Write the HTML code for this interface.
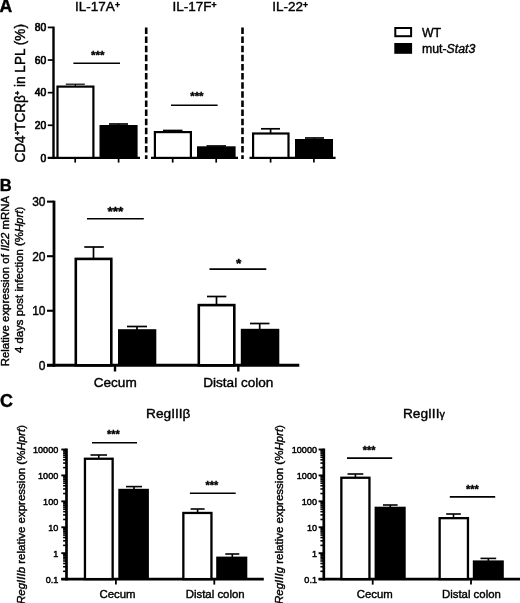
<!DOCTYPE html>
<html><head><meta charset="utf-8"><title>Figure</title>
<style>
html,body{margin:0;padding:0;background:#fff;}
svg{display:block;filter:grayscale(1) blur(0.35px);}
text{font-family:"Liberation Sans", Arial, Helvetica, sans-serif;fill:#000;stroke:#000;stroke-width:0.4px;}
</style></head><body>
<svg width="520" height="603" viewBox="0 0 520 603">
<rect width="520" height="603" fill="#fff"/>
<text x="-0.5" y="12.3" font-size="17.6" text-anchor="start" font-weight="bold" >A</text>
<text x="97.5" y="11.2" font-size="13.5" text-anchor="middle">IL-17A<tspan font-size="8.6" font-weight="bold" dy="-3.7">+</tspan></text>
<text x="194.5" y="11.2" font-size="13.5" text-anchor="middle">IL-17F<tspan font-size="8.6" font-weight="bold" dy="-3.7">+</tspan></text>
<text x="290.2" y="11.2" font-size="13.5" text-anchor="middle">IL-22<tspan font-size="8.6" font-weight="bold" dy="-3.7">+</tspan></text>
<line x1="53.5" y1="26.6" x2="53.5" y2="159.05" stroke="#000" stroke-width="2.4" />
<line x1="47.8" y1="157.9" x2="53.5" y2="157.9" stroke="#000" stroke-width="1.7" />
<text x="46.2" y="161.6" font-size="10.3" text-anchor="end" font-weight="normal" style="stroke-width:0.65px">0</text>
<line x1="47.8" y1="125.28" x2="53.5" y2="125.28" stroke="#000" stroke-width="1.7" />
<text x="46.2" y="128.98" font-size="10.3" text-anchor="end" font-weight="normal" style="stroke-width:0.65px">20</text>
<line x1="47.8" y1="92.66000000000001" x2="53.5" y2="92.66000000000001" stroke="#000" stroke-width="1.7" />
<text x="46.2" y="96.36000000000001" font-size="10.3" text-anchor="end" font-weight="normal" style="stroke-width:0.65px">40</text>
<line x1="47.8" y1="60.040000000000006" x2="53.5" y2="60.040000000000006" stroke="#000" stroke-width="1.7" />
<text x="46.2" y="63.74000000000001" font-size="10.3" text-anchor="end" font-weight="normal" style="stroke-width:0.65px">60</text>
<line x1="47.8" y1="27.420000000000016" x2="53.5" y2="27.420000000000016" stroke="#000" stroke-width="1.7" />
<text x="46.2" y="31.120000000000015" font-size="10.3" text-anchor="end" font-weight="normal" style="stroke-width:0.65px">80</text>
<text transform="translate(24.9,93.3) rotate(-90) scale(1,1.06)" font-size="13.6" text-anchor="middle">CD4<tspan font-size="7.6" font-weight="bold" dy="-4.2">+</tspan><tspan dy="4.2">TCRβ</tspan><tspan font-size="7.6" font-weight="bold" dy="-4.2">+</tspan><tspan dy="4.2"> in LPL (%)</tspan></text>
<line x1="47.8" y1="157.9" x2="140" y2="157.9" stroke="#000" stroke-width="2.3" />
<line x1="65.8" y1="84.2" x2="84.8" y2="84.2" stroke="#000" stroke-width="1.2" />
<line x1="75.4" y1="84.2" x2="75.4" y2="87" stroke="#000" stroke-width="1.2" />
<rect x="57.5" y="86.6" width="35.9" height="71.30000000000001" fill="#fff" stroke="#000" stroke-width="2.2"/>
<line x1="109" y1="124.0" x2="128" y2="124.0" stroke="#000" stroke-width="1.7" />
<line x1="118.5" y1="124.0" x2="118.5" y2="126" stroke="#000" stroke-width="1.7" />
<rect x="99.5" y="125.0" width="38.099999999999994" height="32.900000000000006" fill="#000"/>
<line x1="75.2" y1="157.9" x2="75.2" y2="162.6" stroke="#000" stroke-width="1.7" />
<line x1="118.6" y1="157.9" x2="118.6" y2="162.6" stroke="#000" stroke-width="1.7" />
<line x1="73.4" y1="63.2" x2="120" y2="63.2" stroke="#000" stroke-width="1.6" />
<text x="97.7" y="59.3" font-size="11.5" text-anchor="middle" font-weight="bold" >***</text>
<line x1="146.2" y1="27.4" x2="146.2" y2="159" stroke="#000" stroke-width="2.6" stroke-dasharray="6.5 2.63"/>
<line x1="242.5" y1="27.4" x2="242.5" y2="159" stroke="#000" stroke-width="2.6" stroke-dasharray="6.5 2.63"/>
<line x1="151" y1="157.9" x2="238" y2="157.9" stroke="#000" stroke-width="2.3" />
<line x1="163" y1="130.5" x2="182.5" y2="130.5" stroke="#000" stroke-width="1.7" />
<line x1="172.9" y1="130.5" x2="172.9" y2="132" stroke="#000" stroke-width="1.7" />
<rect x="154.9" y="132.1" width="35.999999999999986" height="25.800000000000004" fill="#fff" stroke="#000" stroke-width="2.2"/>
<line x1="206.5" y1="146.0" x2="226" y2="146.0" stroke="#000" stroke-width="1.7" />
<line x1="216.2" y1="146.0" x2="216.2" y2="147" stroke="#000" stroke-width="1.7" />
<rect x="197" y="146.3" width="38.599999999999994" height="11.599999999999994" fill="#000"/>
<line x1="172.7" y1="157.9" x2="172.7" y2="162.6" stroke="#000" stroke-width="1.7" />
<line x1="216.2" y1="157.9" x2="216.2" y2="162.6" stroke="#000" stroke-width="1.7" />
<line x1="171" y1="105.2" x2="217.6" y2="105.2" stroke="#000" stroke-width="1.6" />
<text x="196.9" y="100.3" font-size="11.5" text-anchor="middle" font-weight="bold" >***</text>
<line x1="249.5" y1="157.9" x2="335.6" y2="157.9" stroke="#000" stroke-width="2.3" />
<line x1="261" y1="128.8" x2="280" y2="128.8" stroke="#000" stroke-width="1.7" />
<line x1="270.6" y1="128.8" x2="270.6" y2="133" stroke="#000" stroke-width="1.7" />
<rect x="253.1" y="133.5" width="35.40000000000002" height="24.4" fill="#fff" stroke="#000" stroke-width="2.2"/>
<line x1="305" y1="138" x2="324" y2="138" stroke="#000" stroke-width="1.7" />
<line x1="314.4" y1="138" x2="314.4" y2="140" stroke="#000" stroke-width="1.7" />
<rect x="295" y="139" width="38" height="18.900000000000006" fill="#000"/>
<line x1="270.6" y1="157.9" x2="270.6" y2="162.6" stroke="#000" stroke-width="1.7" />
<line x1="313.9" y1="157.9" x2="313.9" y2="162.6" stroke="#000" stroke-width="1.7" />
<rect x="395.3" y="28" width="15.8" height="8.2" fill="#fff" stroke="#000" stroke-width="2"/>
<rect x="394.3" y="43" width="17.8" height="10.8" fill="#000"/>
<text x="422" y="36.8" font-size="12.3" text-anchor="start" font-weight="normal" >WT</text>
<text x="422" y="53" font-size="12.3" text-anchor="start" font-weight="normal" >mut-<tspan font-style="italic">Stat3</tspan></text>
<text x="-0.3" y="191.2" font-size="16.5" text-anchor="start" font-weight="bold" >B</text>
<line x1="54" y1="200.7" x2="54" y2="366.8" stroke="#000" stroke-width="2.8" />
<line x1="47" y1="365.3" x2="54" y2="365.3" stroke="#000" stroke-width="2.1" />
<text x="45.5" y="369.8" font-size="12" text-anchor="end" font-weight="normal" >0</text>
<line x1="47" y1="310.75" x2="54" y2="310.75" stroke="#000" stroke-width="2.1" />
<text x="45.5" y="315.25" font-size="12" text-anchor="end" font-weight="normal" >10</text>
<line x1="47" y1="256.20000000000005" x2="54" y2="256.20000000000005" stroke="#000" stroke-width="2.1" />
<text x="45.5" y="260.70000000000005" font-size="12" text-anchor="end" font-weight="normal" >20</text>
<line x1="47" y1="201.65" x2="54" y2="201.65" stroke="#000" stroke-width="2.1" />
<text x="45.5" y="206.15" font-size="12" text-anchor="end" font-weight="normal" >30</text>
<line x1="47" y1="365.3" x2="299.3" y2="365.3" stroke="#000" stroke-width="3" />
<text transform="translate(8.8,281.1) rotate(-90)" font-size="11.4" text-anchor="middle">Relative expression of <tspan font-style="italic">Il22</tspan> mRNA</text>
<text transform="translate(23.0,279.9) rotate(-90)" font-size="11.4" text-anchor="middle">4 days post infection (%<tspan font-style="italic">Hprt</tspan>)</text>
<line x1="84.3" y1="247" x2="103.8" y2="247" stroke="#000" stroke-width="1.7" />
<line x1="93.5" y1="247" x2="93.5" y2="259" stroke="#000" stroke-width="1.7" />
<rect x="75.8" y="258.90000000000003" width="35.49999999999999" height="106.39999999999999" fill="#fff" stroke="#000" stroke-width="2.6"/>
<line x1="127" y1="326.5" x2="147" y2="326.5" stroke="#000" stroke-width="1.7" />
<line x1="137" y1="326.5" x2="137" y2="330" stroke="#000" stroke-width="1.7" />
<rect x="118" y="329.2" width="38.30000000000001" height="36.10000000000002" fill="#000"/>
<line x1="207" y1="296.5" x2="226.3" y2="296.5" stroke="#000" stroke-width="1.7" />
<line x1="216.5" y1="296.5" x2="216.5" y2="305" stroke="#000" stroke-width="1.7" />
<rect x="198.8" y="305.1" width="35.49999999999999" height="60.2" fill="#fff" stroke="#000" stroke-width="2.6"/>
<line x1="250" y1="323.5" x2="269.5" y2="323.5" stroke="#000" stroke-width="1.7" />
<line x1="259.7" y1="323.5" x2="259.7" y2="330" stroke="#000" stroke-width="1.7" />
<rect x="240.8" y="328.8" width="38.5" height="36.5" fill="#000"/>
<line x1="115" y1="365.3" x2="115" y2="371.5" stroke="#000" stroke-width="2.4" />
<line x1="238.3" y1="365.3" x2="238.3" y2="371.5" stroke="#000" stroke-width="2.4" />
<text x="115.2" y="387.1" font-size="13.6" text-anchor="middle" font-weight="normal" >Cecum</text>
<text x="238.3" y="387.1" font-size="13.6" text-anchor="middle" font-weight="normal" >Distal colon</text>
<line x1="87" y1="218.8" x2="143.8" y2="218.8" stroke="#000" stroke-width="1.6" />
<text x="115.4" y="216.2" font-size="13.7" text-anchor="middle" font-weight="bold" >***</text>
<line x1="209.5" y1="269.1" x2="266.3" y2="269.1" stroke="#000" stroke-width="1.6" />
<text x="238.6" y="267.5" font-size="13.7" text-anchor="middle" font-weight="bold" >*</text>
<text x="0" y="406.7" font-size="17.9" text-anchor="start" font-weight="bold" >C</text>
<line x1="66.5" y1="448.5" x2="66.5" y2="580.4" stroke="#000" stroke-width="2.7" />
<line x1="61.3" y1="579.1" x2="66.5" y2="579.1" stroke="#000" stroke-width="1.9" />
<text x="58.3" y="582.6" font-size="9.1" text-anchor="end" font-weight="normal" style="stroke-width:0.45px">0.1</text>
<line x1="63.1" y1="571.2973025123896" x2="66.5" y2="571.2973025123896" stroke="#000" stroke-width="1.6" />
<line x1="63.1" y1="566.7330170776663" x2="66.5" y2="566.7330170776663" stroke="#000" stroke-width="1.6" />
<line x1="63.1" y1="563.4946050247793" x2="66.5" y2="563.4946050247793" stroke="#000" stroke-width="1.6" />
<line x1="63.1" y1="560.9826974876104" x2="66.5" y2="560.9826974876104" stroke="#000" stroke-width="1.6" />
<line x1="63.1" y1="558.930319590056" x2="66.5" y2="558.930319590056" stroke="#000" stroke-width="1.6" />
<line x1="63.1" y1="557.1950588028304" x2="66.5" y2="557.1950588028304" stroke="#000" stroke-width="1.6" />
<line x1="63.1" y1="555.6919075371688" x2="66.5" y2="555.6919075371688" stroke="#000" stroke-width="1.6" />
<line x1="63.1" y1="554.3660341553327" x2="66.5" y2="554.3660341553327" stroke="#000" stroke-width="1.6" />
<line x1="61.3" y1="553.1800000000001" x2="66.5" y2="553.1800000000001" stroke="#000" stroke-width="1.9" />
<text x="58.3" y="556.6800000000001" font-size="9.1" text-anchor="end" font-weight="normal" style="stroke-width:0.45px">1</text>
<line x1="63.1" y1="545.3773025123896" x2="66.5" y2="545.3773025123896" stroke="#000" stroke-width="1.6" />
<line x1="63.1" y1="540.8130170776664" x2="66.5" y2="540.8130170776664" stroke="#000" stroke-width="1.6" />
<line x1="63.1" y1="537.5746050247792" x2="66.5" y2="537.5746050247792" stroke="#000" stroke-width="1.6" />
<line x1="63.1" y1="535.0626974876104" x2="66.5" y2="535.0626974876104" stroke="#000" stroke-width="1.6" />
<line x1="63.1" y1="533.0103195900559" x2="66.5" y2="533.0103195900559" stroke="#000" stroke-width="1.6" />
<line x1="63.1" y1="531.2750588028305" x2="66.5" y2="531.2750588028305" stroke="#000" stroke-width="1.6" />
<line x1="63.1" y1="529.7719075371688" x2="66.5" y2="529.7719075371688" stroke="#000" stroke-width="1.6" />
<line x1="63.1" y1="528.4460341553327" x2="66.5" y2="528.4460341553327" stroke="#000" stroke-width="1.6" />
<line x1="61.3" y1="527.26" x2="66.5" y2="527.26" stroke="#000" stroke-width="1.9" />
<text x="58.3" y="530.76" font-size="9.1" text-anchor="end" font-weight="normal" style="stroke-width:0.45px">10</text>
<line x1="63.1" y1="519.4573025123896" x2="66.5" y2="519.4573025123896" stroke="#000" stroke-width="1.6" />
<line x1="63.1" y1="514.8930170776664" x2="66.5" y2="514.8930170776664" stroke="#000" stroke-width="1.6" />
<line x1="63.1" y1="511.65460502477924" x2="66.5" y2="511.65460502477924" stroke="#000" stroke-width="1.6" />
<line x1="63.1" y1="509.1426974876104" x2="66.5" y2="509.1426974876104" stroke="#000" stroke-width="1.6" />
<line x1="63.1" y1="507.09031959005597" x2="66.5" y2="507.09031959005597" stroke="#000" stroke-width="1.6" />
<line x1="63.1" y1="505.35505880283046" x2="66.5" y2="505.35505880283046" stroke="#000" stroke-width="1.6" />
<line x1="63.1" y1="503.8519075371688" x2="66.5" y2="503.8519075371688" stroke="#000" stroke-width="1.6" />
<line x1="63.1" y1="502.5260341553327" x2="66.5" y2="502.5260341553327" stroke="#000" stroke-width="1.6" />
<line x1="61.3" y1="501.34000000000003" x2="66.5" y2="501.34000000000003" stroke="#000" stroke-width="1.9" />
<text x="58.3" y="504.84000000000003" font-size="9.1" text-anchor="end" font-weight="normal" style="stroke-width:0.45px">100</text>
<line x1="63.1" y1="493.5373025123896" x2="66.5" y2="493.5373025123896" stroke="#000" stroke-width="1.6" />
<line x1="63.1" y1="488.9730170776663" x2="66.5" y2="488.9730170776663" stroke="#000" stroke-width="1.6" />
<line x1="63.1" y1="485.7346050247792" x2="66.5" y2="485.7346050247792" stroke="#000" stroke-width="1.6" />
<line x1="63.1" y1="483.2226974876104" x2="66.5" y2="483.2226974876104" stroke="#000" stroke-width="1.6" />
<line x1="63.1" y1="481.17031959005595" x2="66.5" y2="481.17031959005595" stroke="#000" stroke-width="1.6" />
<line x1="63.1" y1="479.43505880283044" x2="66.5" y2="479.43505880283044" stroke="#000" stroke-width="1.6" />
<line x1="63.1" y1="477.9319075371688" x2="66.5" y2="477.9319075371688" stroke="#000" stroke-width="1.6" />
<line x1="63.1" y1="476.6060341553327" x2="66.5" y2="476.6060341553327" stroke="#000" stroke-width="1.6" />
<line x1="61.3" y1="475.42" x2="66.5" y2="475.42" stroke="#000" stroke-width="1.9" />
<text x="58.3" y="478.92" font-size="9.1" text-anchor="end" font-weight="normal" style="stroke-width:0.45px">1000</text>
<line x1="63.1" y1="467.6173025123896" x2="66.5" y2="467.6173025123896" stroke="#000" stroke-width="1.6" />
<line x1="63.1" y1="463.05301707766637" x2="66.5" y2="463.05301707766637" stroke="#000" stroke-width="1.6" />
<line x1="63.1" y1="459.8146050247792" x2="66.5" y2="459.8146050247792" stroke="#000" stroke-width="1.6" />
<line x1="63.1" y1="457.3026974876104" x2="66.5" y2="457.3026974876104" stroke="#000" stroke-width="1.6" />
<line x1="63.1" y1="455.25031959005594" x2="66.5" y2="455.25031959005594" stroke="#000" stroke-width="1.6" />
<line x1="63.1" y1="453.5150588028305" x2="66.5" y2="453.5150588028305" stroke="#000" stroke-width="1.6" />
<line x1="63.1" y1="452.01190753716884" x2="66.5" y2="452.01190753716884" stroke="#000" stroke-width="1.6" />
<line x1="63.1" y1="450.6860341553327" x2="66.5" y2="450.6860341553327" stroke="#000" stroke-width="1.6" />
<line x1="61.3" y1="449.5" x2="66.5" y2="449.5" stroke="#000" stroke-width="1.9" />
<text x="58.3" y="453.0" font-size="9.1" text-anchor="end" font-weight="normal" style="stroke-width:0.45px">10000</text>
<line x1="61.3" y1="579.1" x2="263.8" y2="579.1" stroke="#000" stroke-width="2.8" />
<text x="168.3" y="417.9" font-size="13.7" text-anchor="middle" font-weight="normal" >RegIIIβ</text>
<text transform="translate(24.9,514.5) rotate(-90)" font-size="11.5" text-anchor="middle"><tspan font-style="italic">RegIIIb</tspan> relative expression (%<tspan font-style="italic">Hprt</tspan>)</text>
<line x1="90.5" y1="455" x2="107" y2="455" stroke="#000" stroke-width="1.6" />
<line x1="98.75" y1="455" x2="98.75" y2="458.6" stroke="#000" stroke-width="1.6" />
<rect x="84.95" y="458.75" width="27.7" height="120.35" fill="#fff" stroke="#000" stroke-width="2.3"/>
<line x1="126" y1="486.6" x2="142" y2="486.6" stroke="#000" stroke-width="1.6" />
<line x1="134.0" y1="486.6" x2="134.0" y2="489.8" stroke="#000" stroke-width="1.6" />
<rect x="118.3" y="488.8" width="30.60000000000001" height="90.30000000000001" fill="#000"/>
<line x1="190.6" y1="509" x2="204.6" y2="509" stroke="#000" stroke-width="1.6" />
<line x1="197.6" y1="509" x2="197.6" y2="512.8" stroke="#000" stroke-width="1.6" />
<rect x="183.35" y="512.95" width="28.100000000000005" height="66.15" fill="#fff" stroke="#000" stroke-width="2.3"/>
<line x1="225.3" y1="554" x2="239.3" y2="554" stroke="#000" stroke-width="1.6" />
<line x1="232.3" y1="554" x2="232.3" y2="557.6" stroke="#000" stroke-width="1.6" />
<rect x="216.2" y="556.6" width="31.100000000000023" height="22.5" fill="#000"/>
<line x1="115.9" y1="579.1" x2="115.9" y2="584.6" stroke="#000" stroke-width="1.8" />
<line x1="214.3" y1="579.1" x2="214.3" y2="584.6" stroke="#000" stroke-width="1.8" />
<text x="117.5" y="598" font-size="11.4" text-anchor="middle" font-weight="normal" >Cecum</text>
<text x="215.2" y="598" font-size="11.4" text-anchor="middle" font-weight="normal" >Distal colon</text>
<line x1="92" y1="442.7" x2="137" y2="442.7" stroke="#000" stroke-width="1.6" />
<text x="113.4" y="438.0" font-size="10.9" text-anchor="middle" font-weight="bold" >***</text>
<line x1="189.9" y1="493.2" x2="235.7" y2="493.2" stroke="#000" stroke-width="1.6" />
<text x="211.8" y="489.3" font-size="10.9" text-anchor="middle" font-weight="bold" >***</text>
<line x1="323.8" y1="448.5" x2="323.8" y2="580.4" stroke="#000" stroke-width="2.7" />
<line x1="318.6" y1="579.1" x2="323.8" y2="579.1" stroke="#000" stroke-width="1.9" />
<text x="317" y="582.6" font-size="9.1" text-anchor="end" font-weight="normal" style="stroke-width:0.45px">0.1</text>
<line x1="320.40000000000003" y1="571.2973025123896" x2="323.8" y2="571.2973025123896" stroke="#000" stroke-width="1.6" />
<line x1="320.40000000000003" y1="566.7330170776663" x2="323.8" y2="566.7330170776663" stroke="#000" stroke-width="1.6" />
<line x1="320.40000000000003" y1="563.4946050247793" x2="323.8" y2="563.4946050247793" stroke="#000" stroke-width="1.6" />
<line x1="320.40000000000003" y1="560.9826974876104" x2="323.8" y2="560.9826974876104" stroke="#000" stroke-width="1.6" />
<line x1="320.40000000000003" y1="558.930319590056" x2="323.8" y2="558.930319590056" stroke="#000" stroke-width="1.6" />
<line x1="320.40000000000003" y1="557.1950588028304" x2="323.8" y2="557.1950588028304" stroke="#000" stroke-width="1.6" />
<line x1="320.40000000000003" y1="555.6919075371688" x2="323.8" y2="555.6919075371688" stroke="#000" stroke-width="1.6" />
<line x1="320.40000000000003" y1="554.3660341553327" x2="323.8" y2="554.3660341553327" stroke="#000" stroke-width="1.6" />
<line x1="318.6" y1="553.1800000000001" x2="323.8" y2="553.1800000000001" stroke="#000" stroke-width="1.9" />
<text x="317" y="556.6800000000001" font-size="9.1" text-anchor="end" font-weight="normal" style="stroke-width:0.45px">1</text>
<line x1="320.40000000000003" y1="545.3773025123896" x2="323.8" y2="545.3773025123896" stroke="#000" stroke-width="1.6" />
<line x1="320.40000000000003" y1="540.8130170776664" x2="323.8" y2="540.8130170776664" stroke="#000" stroke-width="1.6" />
<line x1="320.40000000000003" y1="537.5746050247792" x2="323.8" y2="537.5746050247792" stroke="#000" stroke-width="1.6" />
<line x1="320.40000000000003" y1="535.0626974876104" x2="323.8" y2="535.0626974876104" stroke="#000" stroke-width="1.6" />
<line x1="320.40000000000003" y1="533.0103195900559" x2="323.8" y2="533.0103195900559" stroke="#000" stroke-width="1.6" />
<line x1="320.40000000000003" y1="531.2750588028305" x2="323.8" y2="531.2750588028305" stroke="#000" stroke-width="1.6" />
<line x1="320.40000000000003" y1="529.7719075371688" x2="323.8" y2="529.7719075371688" stroke="#000" stroke-width="1.6" />
<line x1="320.40000000000003" y1="528.4460341553327" x2="323.8" y2="528.4460341553327" stroke="#000" stroke-width="1.6" />
<line x1="318.6" y1="527.26" x2="323.8" y2="527.26" stroke="#000" stroke-width="1.9" />
<text x="317" y="530.76" font-size="9.1" text-anchor="end" font-weight="normal" style="stroke-width:0.45px">10</text>
<line x1="320.40000000000003" y1="519.4573025123896" x2="323.8" y2="519.4573025123896" stroke="#000" stroke-width="1.6" />
<line x1="320.40000000000003" y1="514.8930170776664" x2="323.8" y2="514.8930170776664" stroke="#000" stroke-width="1.6" />
<line x1="320.40000000000003" y1="511.65460502477924" x2="323.8" y2="511.65460502477924" stroke="#000" stroke-width="1.6" />
<line x1="320.40000000000003" y1="509.1426974876104" x2="323.8" y2="509.1426974876104" stroke="#000" stroke-width="1.6" />
<line x1="320.40000000000003" y1="507.09031959005597" x2="323.8" y2="507.09031959005597" stroke="#000" stroke-width="1.6" />
<line x1="320.40000000000003" y1="505.35505880283046" x2="323.8" y2="505.35505880283046" stroke="#000" stroke-width="1.6" />
<line x1="320.40000000000003" y1="503.8519075371688" x2="323.8" y2="503.8519075371688" stroke="#000" stroke-width="1.6" />
<line x1="320.40000000000003" y1="502.5260341553327" x2="323.8" y2="502.5260341553327" stroke="#000" stroke-width="1.6" />
<line x1="318.6" y1="501.34000000000003" x2="323.8" y2="501.34000000000003" stroke="#000" stroke-width="1.9" />
<text x="317" y="504.84000000000003" font-size="9.1" text-anchor="end" font-weight="normal" style="stroke-width:0.45px">100</text>
<line x1="320.40000000000003" y1="493.5373025123896" x2="323.8" y2="493.5373025123896" stroke="#000" stroke-width="1.6" />
<line x1="320.40000000000003" y1="488.9730170776663" x2="323.8" y2="488.9730170776663" stroke="#000" stroke-width="1.6" />
<line x1="320.40000000000003" y1="485.7346050247792" x2="323.8" y2="485.7346050247792" stroke="#000" stroke-width="1.6" />
<line x1="320.40000000000003" y1="483.2226974876104" x2="323.8" y2="483.2226974876104" stroke="#000" stroke-width="1.6" />
<line x1="320.40000000000003" y1="481.17031959005595" x2="323.8" y2="481.17031959005595" stroke="#000" stroke-width="1.6" />
<line x1="320.40000000000003" y1="479.43505880283044" x2="323.8" y2="479.43505880283044" stroke="#000" stroke-width="1.6" />
<line x1="320.40000000000003" y1="477.9319075371688" x2="323.8" y2="477.9319075371688" stroke="#000" stroke-width="1.6" />
<line x1="320.40000000000003" y1="476.6060341553327" x2="323.8" y2="476.6060341553327" stroke="#000" stroke-width="1.6" />
<line x1="318.6" y1="475.42" x2="323.8" y2="475.42" stroke="#000" stroke-width="1.9" />
<text x="317" y="478.92" font-size="9.1" text-anchor="end" font-weight="normal" style="stroke-width:0.45px">1000</text>
<line x1="320.40000000000003" y1="467.6173025123896" x2="323.8" y2="467.6173025123896" stroke="#000" stroke-width="1.6" />
<line x1="320.40000000000003" y1="463.05301707766637" x2="323.8" y2="463.05301707766637" stroke="#000" stroke-width="1.6" />
<line x1="320.40000000000003" y1="459.8146050247792" x2="323.8" y2="459.8146050247792" stroke="#000" stroke-width="1.6" />
<line x1="320.40000000000003" y1="457.3026974876104" x2="323.8" y2="457.3026974876104" stroke="#000" stroke-width="1.6" />
<line x1="320.40000000000003" y1="455.25031959005594" x2="323.8" y2="455.25031959005594" stroke="#000" stroke-width="1.6" />
<line x1="320.40000000000003" y1="453.5150588028305" x2="323.8" y2="453.5150588028305" stroke="#000" stroke-width="1.6" />
<line x1="320.40000000000003" y1="452.01190753716884" x2="323.8" y2="452.01190753716884" stroke="#000" stroke-width="1.6" />
<line x1="320.40000000000003" y1="450.6860341553327" x2="323.8" y2="450.6860341553327" stroke="#000" stroke-width="1.6" />
<line x1="318.6" y1="449.5" x2="323.8" y2="449.5" stroke="#000" stroke-width="1.9" />
<text x="317" y="453.0" font-size="9.1" text-anchor="end" font-weight="normal" style="stroke-width:0.45px">10000</text>
<line x1="318.6" y1="579.1" x2="520" y2="579.1" stroke="#000" stroke-width="2.8" />
<text x="423.9" y="417.9" font-size="13.7" text-anchor="middle" font-weight="normal" >RegIII<tspan font-size="10.8">γ</tspan></text>
<text transform="translate(282.8,514.5) rotate(-90)" font-size="11.5" text-anchor="middle"><tspan font-style="italic">RegIIIg</tspan> relative expression (%<tspan font-style="italic">Hprt</tspan>)</text>
<line x1="347.5" y1="474" x2="363.3" y2="474" stroke="#000" stroke-width="1.6" />
<line x1="355.4" y1="474" x2="355.4" y2="477.6" stroke="#000" stroke-width="1.6" />
<rect x="341.34999999999997" y="477.75" width="28.100000000000033" height="101.35" fill="#fff" stroke="#000" stroke-width="2.3"/>
<line x1="383" y1="505" x2="397.6" y2="505" stroke="#000" stroke-width="1.6" />
<line x1="390.3" y1="505" x2="390.3" y2="507.7" stroke="#000" stroke-width="1.6" />
<rect x="374.6" y="506.7" width="31.099999999999966" height="72.40000000000003" fill="#000"/>
<line x1="446.2" y1="514" x2="460.8" y2="514" stroke="#000" stroke-width="1.6" />
<line x1="453.5" y1="514" x2="453.5" y2="518" stroke="#000" stroke-width="1.6" />
<rect x="439.65" y="518.15" width="28.300000000000022" height="60.950000000000024" fill="#fff" stroke="#000" stroke-width="2.3"/>
<line x1="480.5" y1="558.4" x2="496.2" y2="558.4" stroke="#000" stroke-width="1.6" />
<line x1="488.35" y1="558.4" x2="488.35" y2="561.4" stroke="#000" stroke-width="1.6" />
<rect x="472.8" y="560.4" width="31.0" height="18.700000000000045" fill="#000"/>
<line x1="372.7" y1="579.1" x2="372.7" y2="584.6" stroke="#000" stroke-width="1.8" />
<line x1="471" y1="579.1" x2="471" y2="584.6" stroke="#000" stroke-width="1.8" />
<text x="374.8" y="598" font-size="11.4" text-anchor="middle" font-weight="normal" >Cecum</text>
<text x="471.4" y="598" font-size="11.4" text-anchor="middle" font-weight="normal" >Distal colon</text>
<line x1="347" y1="458.09999999999997" x2="392.2" y2="458.09999999999997" stroke="#000" stroke-width="1.6" />
<text x="369.20000000000005" y="454.0" font-size="10.9" text-anchor="middle" font-weight="bold" >***</text>
<line x1="449.8" y1="496.9" x2="495.2" y2="496.9" stroke="#000" stroke-width="1.6" />
<text x="472.3" y="492.8" font-size="10.9" text-anchor="middle" font-weight="bold" >***</text>
</svg>
</body></html>
